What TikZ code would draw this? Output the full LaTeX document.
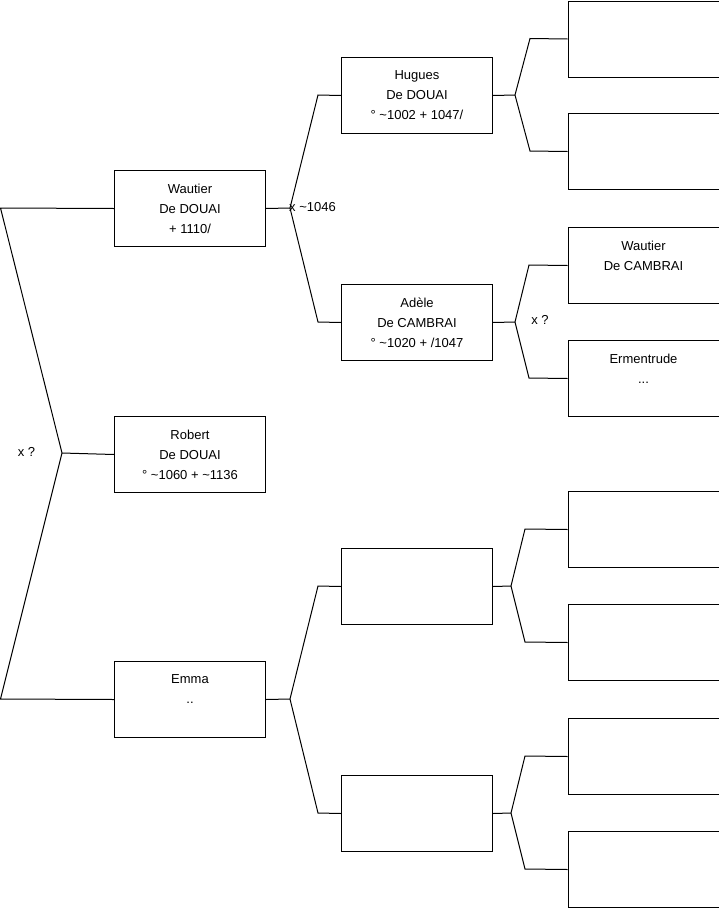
\documentclass[tikz,border=0pt]{standalone}
\usepackage{fontspec}
\setmainfont{Liberation Sans}
\begin{document}
\begin{tikzpicture}[x=1pt,y=-1pt,
  box/.style={draw=black,line width=1pt,rectangle,anchor=north west,minimum width=151pt,minimum height=76pt,inner sep=0pt,align=center,font=\fontsize{13}{20}\selectfont},
  conn/.style={draw=black,line width=1pt,line join=miter},
  lbl/.style={inner sep=0pt,font=\fontsize{13}{20}\selectfont}]
\useasboundingbox (0,0) rectangle (719,908);
% column 1
\node[box] (w) at (114,170) {Wautier\\De DOUAI\\+ 1110/};
\node[box] (r) at (114,416) {Robert\\De DOUAI\\° \textasciitilde1060 + \textasciitilde1136};
\node[box] (e) at (114,661) {Emma\\..\\\mbox{}};
% column 2
\node[box] (h) at (341,57) {Hugues\\De DOUAI\\° \textasciitilde1002 + 1047/};
\node[box] (a) at (341,284) {Adèle\\De CAMBRAI\\° \textasciitilde1020 + /1047};
\node[box] (e1) at (341,548) {};
\node[box] (e2) at (341,775) {};
% column 3
\node[box] (r1) at (567.5,0.5) {};
\node[box] (r2) at (567.5,113) {};
\node[box] (r3) at (567.5,227) {Wautier\\De CAMBRAI\\\mbox{}};
\node[box] (r4) at (567.5,340) {Ermentrude\\...\\\mbox{}};
\node[box] (r5) at (567.5,491) {};
\node[box] (r6) at (567.5,604) {};
\node[box] (r7) at (567.5,718) {};
\node[box] (r8) at (567.5,831) {};
% junction coordinates
\coordinate (L1) at (0.5,208);
\coordinate (L2) at (0.5,699);
\coordinate (J0) at (62,453);
\coordinate (J1) at (290,208);
\coordinate (A1) at (318,95);
\coordinate (A2) at (318,322);
\coordinate (J2) at (515,95);
\coordinate (B1) at (530,38.5);
\coordinate (B2) at (530,151);
\coordinate (J3) at (515,322);
\coordinate (C1) at (529,265);
\coordinate (C2) at (529,378);
\coordinate (J4) at (290,699);
\coordinate (D1) at (318,586);
\coordinate (D2) at (318,813);
\coordinate (J5) at (511,586);
\coordinate (E1) at (525,529);
\coordinate (E2) at (525,642);
\coordinate (J6) at (511,813);
\coordinate (F1) at (525,756);
\coordinate (F2) at (525,869);
% connectors
\draw[conn] (w.west) -- (L1) -- (J0) -- (L2) -- (e.west);
\draw[conn] (J0) -- (r.west);
\draw[conn] (w.east) -- (J1);
\draw[conn] (h.west) -- (A1) -- (J1) -- (A2) -- (a.west);
\draw[conn] (h.east) -- (J2);
\draw[conn] (r1.west) -- (B1) -- (J2) -- (B2) -- (r2.west);
\draw[conn] (a.east) -- (J3);
\draw[conn] (r3.west) -- (C1) -- (J3) -- (C2) -- (r4.west);
\draw[conn] (e.east) -- (J4);
\draw[conn] (e1.west) -- (D1) -- (J4) -- (D2) -- (e2.west);
\draw[conn] (e1.east) -- (J5);
\draw[conn] (r5.west) -- (E1) -- (J5) -- (E2) -- (r6.west);
\draw[conn] (e2.east) -- (J6);
\draw[conn] (r7.west) -- (F1) -- (J6) -- (F2) -- (r8.west);
% labels
\node[lbl] (x1) at (26.5,452) {x ?};
\node[lbl] (x2) at (312.5,207) {x \textasciitilde1046};
\node[lbl] (x3) at (540,320) {x ?};
\end{tikzpicture}
\end{document}
